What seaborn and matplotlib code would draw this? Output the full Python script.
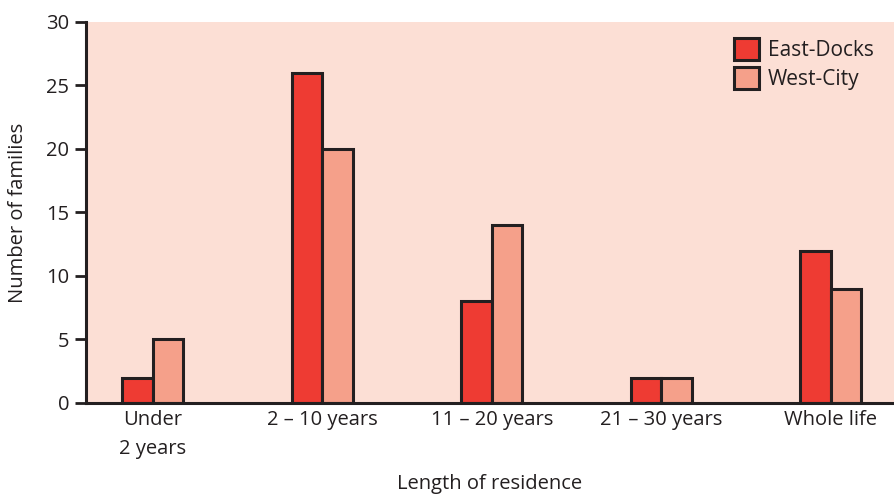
import numpy as np
import pandas as pd
import matplotlib.pyplot as plt
import seaborn as sns

categories = ["Under\n2 years", "2 – 10 years", "11 – 20 years", "21 – 30 years", "Whole life"]
east_docks = [2, 26, 8, 2, 12]
west_city = [5, 20, 14, 2, 9]
series = ["East-Docks", "West-City"]

df = pd.DataFrame({
    "Length": categories * 2,
    "Families": east_docks + west_city,
    "Area": [series[0]] * len(categories) + [series[1]] * len(categories),
})

sns.set_theme(style="ticks")
plt.rcParams["font.family"] = ["Open Sans", "DejaVu Sans"]

dark = "#231f20"
palette = {"East-Docks": "#ee3b33", "West-City": "#f5a08a"}
fs = 14.5

fig = plt.figure(figsize=(8.94, 4.95), dpi=100)
ax = fig.add_axes([0.0962, 0.1859, 0.9038, 0.7697])
ax.set_facecolor("#fcdfd5")

sns.barplot(data=df, x="Length", y="Families", hue="Area", palette=palette,
            width=0.36, gap=0, saturation=1, edgecolor=dark, linewidth=2.2,
            ax=ax)

ax.set_xlim(-0.395, 4.372)
ax.set_ylim(0, 30)
ax.set_yticks(range(0, 31, 5))
ax.tick_params(axis="y", length=8, width=2, color=dark, labelsize=fs,
               labelcolor=dark, pad=4)
ax.tick_params(axis="x", length=0, labelsize=fs, labelcolor=dark, pad=5)
for lab in ax.get_xticklabels():
    lab.set_linespacing(1.6)
for s in ["top", "right"]:
    ax.spines[s].set_visible(False)
for s in ["left", "bottom"]:
    ax.spines[s].set_linewidth(2.2)
    ax.spines[s].set_color(dark)

ax.set_xlabel("Length of residence", fontsize=fs, color=dark, labelpad=11)
ax.set_ylabel("Number of families", fontsize=fs, color=dark, labelpad=13)

leg = ax.legend(loc="upper right", frameon=False, fontsize=fs + 0.5,
                handlelength=1.2, handleheight=1.2, handletextpad=0.4,
                labelspacing=0.3, borderaxespad=0.2,
                bbox_to_anchor=(0.99, 0.99))
for t in leg.get_texts():
    t.set_color(dark)
for h in leg.legend_handles:
    h.set_linewidth(2.2)

fig.savefig("out.png", dpi=100, facecolor="white")
